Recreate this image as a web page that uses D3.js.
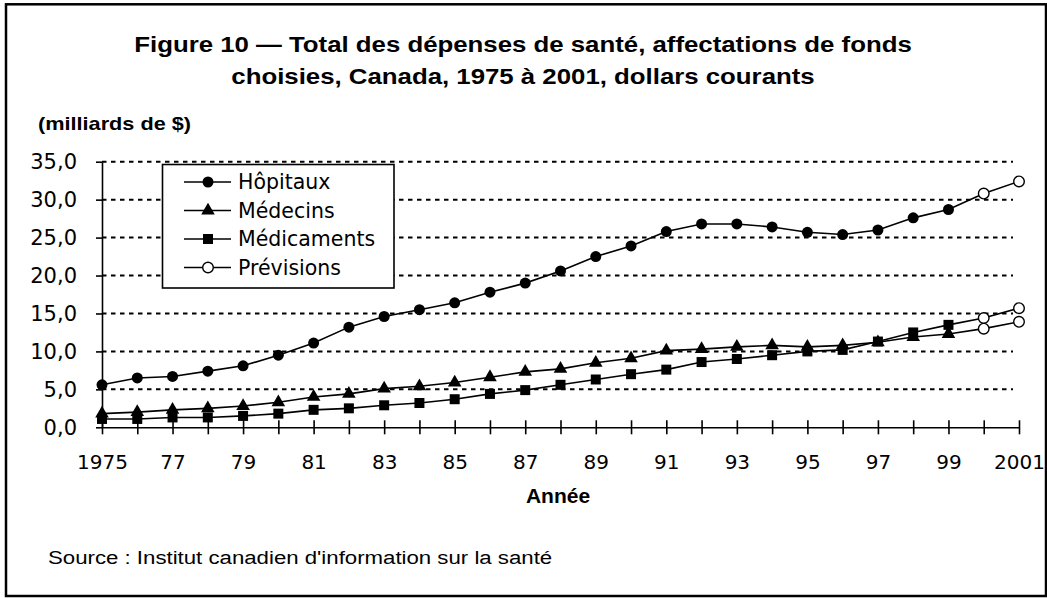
<!DOCTYPE html>
<html><head><meta charset="utf-8">
<script src="https://cdn.jsdelivr.net/npm/d3@7"></script>
<style>body{margin:0;background:#fff}</style>
</head><body>
<svg id="chart" width="1047" height="598"></svg>
<script>
// ---- data ----
const years = [1975,1976,1977,1978,1979,1980,1981,1982,1983,1984,1985,1986,1987,1988,1989,1990,1991,1992,1993,1994,1995,1996,1997,1998,1999,2000,2001];
const hopitaux    = [5.6,6.5,6.7,7.4,8.1,9.5,11.1,13.2,14.6,15.5,16.4,17.8,19.0,20.6,22.5,23.9,25.8,26.8,26.8,26.4,25.7,25.4,26.0,27.6,28.7,30.8,32.4];
const medecins    = [1.8,2.0,2.3,2.5,2.8,3.3,4.0,4.4,5.1,5.4,5.9,6.6,7.3,7.7,8.5,9.1,10.1,10.3,10.6,10.8,10.6,10.8,11.2,11.9,12.3,13.0,13.9];
const medicaments = [1.1,1.1,1.3,1.3,1.5,1.8,2.3,2.5,2.9,3.2,3.7,4.4,4.9,5.6,6.3,7.0,7.6,8.6,9.0,9.5,10.0,10.2,11.3,12.5,13.5,14.4,15.7];
const forecastYears = [2000, 2001];
const seriesNames = ["Hôpitaux","Médecins","Médicaments"];
const legendLabels = ["Hôpitaux","Médecins","Médicaments","Prévisions"];
const xLabelYears = [1975,1977,1979,1981,1983,1985,1987,1989,1991,1993,1995,1997,1999,2001];
const xTickLabels = ["1975","77","79","81","83","85","87","89","91","93","95","97","99","2001"];
const yTicks = [0,5,10,15,20,25,30,35];
const yTickLabels = ["0,0","5,0","10,0","15,0","20,0","25,0","30,0","35,0"];
const titleLines = ["Figure 10 \u2014 Total des dépenses de santé, affectations de fonds","choisies, Canada, 1975 à 2001, dollars courants"];
const yUnit = "(milliards de $)";
const xTitle = "Année";
const source = "Source : Institut canadien d'information sur la santé";

// ---- layout ----
const svg = d3.select("#chart");
const tickFont = "DejaVu Sans, Verdana, sans-serif";
const boldFont = "Liberation Sans, Arial, sans-serif";
const x = d3.scaleLinear().domain([1975, 2001]).range([102, 1019]);
const y = d3.scaleLinear().domain([0, 35]).range([427.3, 161.7]);

svg.append("rect").attr("width",1047).attr("height",598).attr("fill","#fff");
svg.append("rect").attr("x",6).attr("y",4.3).attr("width",1040).attr("height",591.7)
  .attr("fill","none").attr("stroke","#000").attr("stroke-width",2.5);

// title
titleLines.forEach((t,i)=>{
  svg.append("g").attr("transform",`translate(523,${52+32*i}) scale(1.2,1)`)
    .append("text").attr("text-anchor","middle")
    .attr("font-family",boldFont).attr("font-weight","bold").attr("font-size",21.5)
    .text(t);
});
svg.append("g").attr("transform","translate(38,130) scale(1.24,1)")
  .append("text").attr("font-family",boldFont).attr("font-weight","bold").attr("font-size",17.5).text(yUnit);

// gridlines
svg.append("g").selectAll("line").data(yTicks.filter(d=>d>0)).join("line")
  .attr("x1",x(1975)).attr("x2",1013).attr("y1",d=>y(d)).attr("y2",d=>y(d))
  .attr("stroke","#000").attr("stroke-width",2).attr("stroke-dasharray","4.5,4.5");

// y axis
const yAxis = svg.append("g").attr("transform",`translate(${x(1975)},0)`)
  .call(d3.axisLeft(y).tickValues(yTicks).tickFormat((d,i)=>yTickLabels[i]).tickSize(6).tickSizeOuter(0).tickPadding(19));
yAxis.selectAll("text").attr("font-family",tickFont).attr("font-size",21).attr("fill","#000");
yAxis.selectAll("line,path").attr("stroke","#000").attr("stroke-width",1.6);

// x axis
const xAxis = svg.append("g").attr("transform",`translate(0,${y(0)})`)
  .call(d3.axisBottom(x).tickValues(years).tickSize(7).tickSizeOuter(0).tickPadding(21)
    .tickFormat(d=>{const k=xLabelYears.indexOf(d);return k>=0?xTickLabels[k]:"";}));
xAxis.selectAll(".tick line").attr("y1",-7);
xAxis.selectAll("text").attr("font-family",tickFont).attr("font-size",20).attr("fill","#000");
xAxis.selectAll("line,path").attr("stroke","#000").attr("stroke-width",1.6);

// series
const seriesData = [hopitaux, medecins, medicaments];
const symbols = [d3.symbolCircle, d3.symbolTriangle, d3.symbolSquare];
const symSizes = [95, 80, 100];
const line = d3.line().x(d=>x(d.year)).y(d=>y(d.v));
seriesData.forEach((vals,si)=>{
  const pts = years.map((yr,i)=>({year:yr, v:vals[i], f: forecastYears.includes(yr)}));
  svg.append("path").datum(pts).attr("d",line).attr("fill","none").attr("stroke","#000").attr("stroke-width",1.6);
  const g = svg.append("g");
  g.selectAll("path.m").data(pts.filter(p=>!p.f)).join("path").attr("class","m")
    .attr("transform",p=>`translate(${x(p.year)},${y(p.v)})`)
    .attr("d",d3.symbol(symbols[si], symSizes[si])).attr("fill","#000");
  g.selectAll("circle").data(pts.filter(p=>p.f)).join("circle")
    .attr("cx",p=>x(p.year)).attr("cy",p=>y(p.v)).attr("r",5.3)
    .attr("fill","#fff").attr("stroke","#000").attr("stroke-width",1.4);
});

// legend
const lg = svg.append("g");
lg.append("rect").attr("x",162.5).attr("y",164.5).attr("width",231.5).attr("height",123.5)
  .attr("fill","#fff").attr("stroke","#000").attr("stroke-width",1.6);
const rowY = [182, 210.5, 239, 267.5];
legendLabels.forEach((lab,i)=>{
  const ry = rowY[i];
  lg.append("line").attr("x1",184).attr("x2",231).attr("y1",ry).attr("y2",ry).attr("stroke","#000").attr("stroke-width",1.6);
  if(i<3){
    lg.append("path").attr("transform",`translate(208,${ry})`).attr("d",d3.symbol(symbols[i],symSizes[i])).attr("fill","#000");
  } else {
    lg.append("circle").attr("cx",208).attr("cy",ry).attr("r",5.3).attr("fill","#fff").attr("stroke","#000").attr("stroke-width",1.4);
  }
  lg.append("text").attr("x",238).attr("y",ry).attr("dy","0.36em")
    .attr("font-family",tickFont).attr("font-size",20.5).attr("fill","#000").text(lab);
});

// axis title & source
svg.append("text").attr("x",558).attr("y",503).attr("text-anchor","middle")
  .attr("font-family",boldFont).attr("font-weight","bold").attr("font-size",21).text(xTitle);
svg.append("g").attr("transform","translate(48,564) scale(1.17,1)")
  .append("text").attr("font-family",boldFont).attr("font-size",19).text(source);
</script>
</body></html>
